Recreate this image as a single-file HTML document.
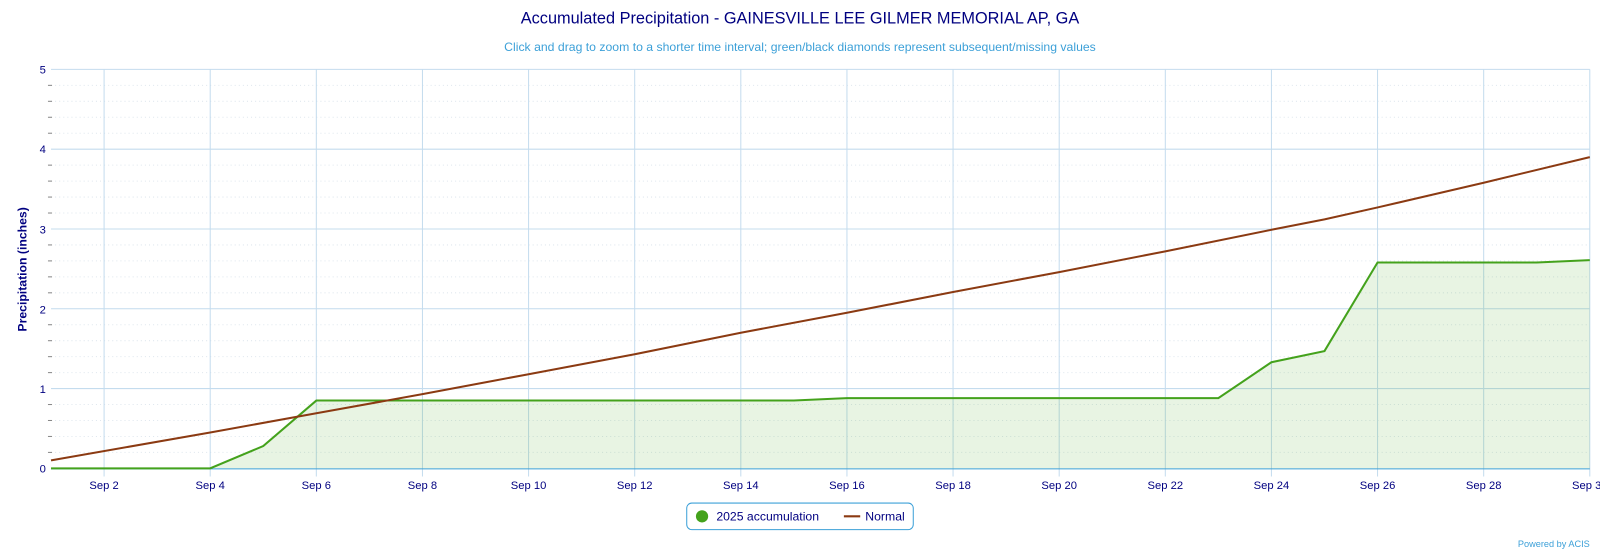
<!DOCTYPE html>
<html><head><meta charset="utf-8"><style>
body{margin:0;background:#fff;overflow:hidden;}
svg text{font-family:"Liberation Sans","DejaVu Sans",sans-serif;}
</style></head><body>
<svg width="1600" height="552" viewBox="0 0 1568 541" preserveAspectRatio="xMinYMin slice" xmlns="http://www.w3.org/2000/svg">
<rect width="1600" height="552" fill="#fff"/>
<text x="784" y="23" text-anchor="middle" font-size="16" fill="#000080">Accumulated Precipitation - GAINESVILLE LEE GILMER MEMORIAL AP, GA</text>
<text x="784" y="50" text-anchor="middle" font-size="12" fill="#3ca0d8">Click and drag to zoom to a shorter time interval; green/black diamonds represent subsequent/missing values</text>
<g id="minor" stroke="#dfe7ee" stroke-width="1" stroke-dasharray="1,3"></g>
<g id="grid"></g>
<g id="series"></g>
<text transform="translate(26,264) rotate(-90)" text-anchor="middle" font-size="12" font-weight="bold" fill="#000080">Precipitation (inches)</text>
<g font-size="11" fill="#000080" text-anchor="end">
<text x="45" y="72">5</text><text x="45" y="150">4</text><text x="45" y="229">3</text><text x="45" y="307">2</text><text x="45" y="385">1</text><text x="45" y="463">0</text>
</g>
<g font-size="11" fill="#000080" text-anchor="middle" id="xl"></g>
<rect x="673" y="493" width="222" height="26" rx="5" fill="#fff" stroke="#3ca0d8"/>
<circle cx="688" cy="506" r="6" fill="#44a21c"/>
<text x="702" y="510" font-size="12" fill="#000080">2025 accumulation</text>
<line x1="827" y1="506" x2="843" y2="506" stroke="#8b3a12" stroke-width="2"/>
<text x="848" y="510" font-size="12" fill="#000080">Normal</text>
<text x="1558" y="536" text-anchor="end" font-size="9" fill="#3ca0d8">Powered by ACIS</text>
</svg>
<script>
var ns="http://www.w3.org/2000/svg";
function X(d){return 50+(d-1)*52;}
function Y(v){return 459-v*78.2;}
function el(p,t,a){var e=document.createElementNS(ns,t);for(var k in a)e.setAttribute(k,a[k]);p.appendChild(e);return e;}
var minor=document.getElementById('minor'),grid=document.getElementById('grid'),ser=document.getElementById('series'),xl=document.getElementById('xl');
for(var i=1;i<25;i++){if(i%5==0)continue;var y=Y(i*0.2);el(minor,'line',{x1:50,x2:1558,y1:y,y2:y});el(grid,'line',{x1:47,x2:51,y1:y,y2:y,stroke:'#888'});}
for(var i=1;i<=5;i++){el(grid,'line',{x1:50,x2:1558,y1:Y(i),y2:Y(i),stroke:'#c4dcee'});}
for(var d=2;d<=30;d+=2){el(grid,'line',{x1:X(d),x2:X(d),y1:68,y2:467,stroke:'#c4dcee'});var t=el(xl,'text',{x:X(d),y:479});t.textContent='Sep '+d;}
var g=[[1,0],[4,0],[5,0.28],[6,0.85],[15,0.85],[16,0.88],[23,0.88],[24,1.33],[25,1.47],[26,2.58],[29,2.58],[30,2.61]];
var pts=g.map(function(p){return X(p[0])+','+Y(p[1]);}).join(' ');
el(ser,'polygon',{points:X(1)+','+Y(0)+' '+pts+' '+X(30)+','+Y(0),fill:'#44a21c','fill-opacity':0.12});
el(ser,'line',{x1:50,x2:1558,y1:459.5,y2:459.5,stroke:'#3ca0d8'});
el(ser,'polyline',{points:pts,fill:'none',stroke:'#44a21c','stroke-width':2});
var n=[[1,0.1],[4,0.45],[6,0.69],[8,0.93],[10,1.18],[12,1.43],[14,1.7],[16,1.95],[18,2.21],[20,2.46],[22,2.72],[24,2.99],[25,3.12],[26,3.27],[28,3.58],[30,3.9]];
el(ser,'polyline',{points:n.map(function(p){return X(p[0])+','+Y(p[1]);}).join(' '),fill:'none',stroke:'#8b3a12','stroke-width':2});
</script>
</body></html>
